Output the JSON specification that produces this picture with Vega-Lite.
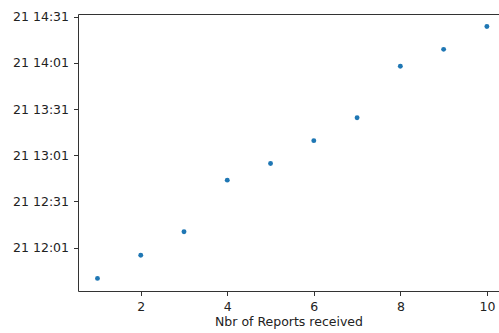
{
  "$schema": "https://vega.github.io/schema/vega-lite/v6.json",
  "width": 421,
  "height": 277,
  "autosize": {"type": "none"},
  "padding": {"left": 78, "top": 14, "right": 0, "bottom": 42},
  "background": "white",
  "config": {
    "view": {"stroke": "#333333", "strokeWidth": 1},
    "axis": {
      "grid": false,
      "domain": false,
      "tickColor": "#333333",
      "tickSize": 4.5,
      "labelFont": "DejaVu Sans",
      "labelFontSize": 12.5,
      "labelColor": "#222222",
      "titleFont": "DejaVu Sans",
      "titleFontSize": 12.5,
      "titleFontWeight": "normal",
      "titleColor": "#222222",
      "labelPadding": 5
    }
  },
  "data": {
    "values": [
      {"n": 1, "t": "2020-01-21T11:41:00"},
      {"n": 2, "t": "2020-01-21T11:56:00"},
      {"n": 3, "t": "2020-01-21T12:11:20"},
      {"n": 4, "t": "2020-01-21T12:44:50"},
      {"n": 5, "t": "2020-01-21T12:55:40"},
      {"n": 6, "t": "2020-01-21T13:10:30"},
      {"n": 7, "t": "2020-01-21T13:25:25"},
      {"n": 8, "t": "2020-01-21T13:58:50"},
      {"n": 9, "t": "2020-01-21T14:09:50"},
      {"n": 10, "t": "2020-01-21T14:24:40"}
    ]
  },
  "mark": {"type": "point", "filled": true, "opacity": 1, "size": 24, "color": "#1f77b4"},
  "encoding": {
    "x": {
      "field": "n",
      "type": "quantitative",
      "scale": {"domain": [0.55, 10.28], "nice": false, "zero": false},
      "axis": {"values": [2, 4, 6, 8, 10], "title": "Nbr of Reports received", "titlePadding": 2}
    },
    "y": {
      "field": "t",
      "type": "temporal",
      "scale": {
        "domain": [
          {"year": 2020, "month": "jan", "date": 21, "hours": 11, "minutes": 32, "seconds": 48},
          {"year": 2020, "month": "jan", "date": 21, "hours": 14, "minutes": 32, "seconds": 48}
        ],
        "nice": false
      },
      "axis": {
        "title": null,
        "format": "%d %H:%M",
        "values": [
          {"year": 2020, "month": "jan", "date": 21, "hours": 12, "minutes": 1},
          {"year": 2020, "month": "jan", "date": 21, "hours": 12, "minutes": 31},
          {"year": 2020, "month": "jan", "date": 21, "hours": 13, "minutes": 1},
          {"year": 2020, "month": "jan", "date": 21, "hours": 13, "minutes": 31},
          {"year": 2020, "month": "jan", "date": 21, "hours": 14, "minutes": 1},
          {"year": 2020, "month": "jan", "date": 21, "hours": 14, "minutes": 31}
        ]
      }
    }
  }
}
